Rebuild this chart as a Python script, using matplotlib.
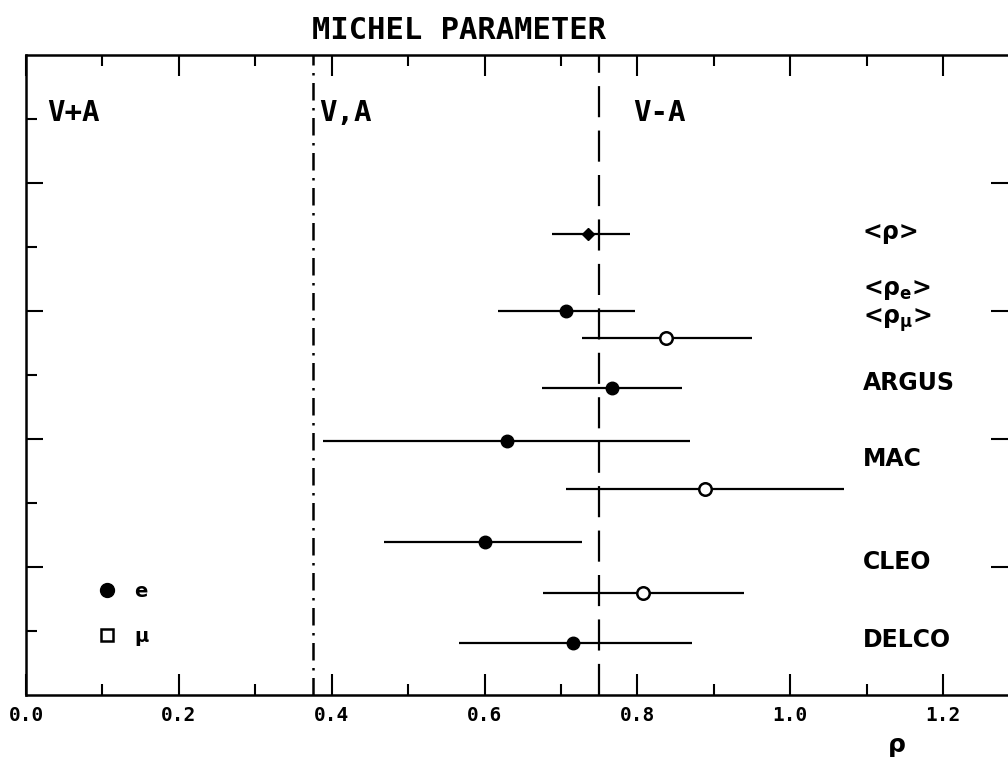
import matplotlib
matplotlib.use('Agg')
import matplotlib.pyplot as plt
from matplotlib.lines import Line2D
from matplotlib.ticker import FixedLocator

# data
labels_y = [7.23, 6.33, 5.86, 4.88, 3.69, 2.08, 0.86]
labels = ['<ρ>', '<ρ$_e$>', '<ρ$_μ$>', 'ARGUS', 'MAC', 'CLEO', 'DELCO']

rho_val = [0.735, 0.707, 0.837, 0.767, 0.629, 0.888, 0.600, 0.808, 0.716]
rho_lo = [0.688, 0.617, 0.727, 0.675, 0.388, 0.707, 0.468, 0.676, 0.567]
rho_hi = [0.790, 0.797, 0.950, 0.859, 0.869, 1.071, 0.728, 0.939, 0.871]
row_y = [7.2, 6.0, 5.58, 4.8, 3.97, 3.22, 2.39, 1.59, 0.81]
kind = ['avg', 'e', 'mu', 'e', 'e', 'mu', 'e', 'mu', 'e']

regions = ['V+A', 'V,A', 'V-A']
region_x = [0.028, 0.383, 0.795]
bounds = [0.375, 0.75]

xticks = [0.0, 0.2, 0.4, 0.6, 0.8, 1.0, 1.2]
xminor = [0.1, 0.3, 0.5, 0.7, 0.9, 1.1]
ymajor = [2, 4, 6, 8]
yminor = [1, 3, 5, 7, 9]

plt.rcParams['mathtext.default'] = 'regular'
mono = 'DejaVu Sans Mono'

fig = plt.figure(figsize=(10.08, 7.57), dpi=100)
ax = fig.add_axes([0.0258, 0.0819, 0.9742, 0.8454])
ax.set_xlim(0, 1.285)
ax.set_ylim(0, 10)

# boundaries
ax.axvline(bounds[0], color='black', lw=1.8, ls=(0, (7, 3, 1, 3)))
ax.axvline(bounds[1], color='black', lw=1.6, ls=(0, (14, 6)))

# error bars and points
for v, lo, hi, y, k in zip(rho_val, rho_lo, rho_hi, row_y, kind):
    ax.plot([lo, hi], [y, y], color='black', lw=1.6, solid_capstyle='butt')
    if k == 'avg':
        ax.plot(v, y, marker='D', ms=6, color='black')
    elif k == 'e':
        ax.plot(v, y, marker='o', ms=9, color='black')
    else:
        ax.plot(v, y, marker='o', ms=9, mfc='white', mec='black', mew=1.8)

for t, y in zip(labels, labels_y):
    ax.text(1.095, y, t, fontsize=17, fontweight='bold', va='center', ha='left')

for t, x in zip(regions, region_x):
    ax.text(x, 9.1, t, family=mono, fontweight='bold', fontsize=21, va='center', ha='left')

# ticks
ax.xaxis.set_major_locator(FixedLocator(xticks))
ax.xaxis.set_minor_locator(FixedLocator(xminor))
ax.yaxis.set_major_locator(FixedLocator(ymajor))
ax.yaxis.set_minor_locator(FixedLocator(yminor))
ax.tick_params(which='both', direction='in', top=True, bottom=True, left=True, right=True, width=1.5)
ax.tick_params(which='major', length=15)
ax.tick_params(which='minor', length=8)
ax.tick_params(axis='y', which='minor', right=False)
ax.tick_params(axis='y', which='major', right=True, length=12)
ax.tick_params(axis='y', labelleft=False)
ax.tick_params(axis='x', pad=8)
ax.set_xticklabels([f'{t:.1f}' for t in xticks], family=mono, fontweight='bold', fontsize=14)
for s in ['left', 'bottom', 'top']:
    ax.spines[s].set_linewidth(1.8)
ax.spines['right'].set_visible(False)

ax.text(1.14, -0.78, 'ρ', fontsize=18, fontweight='bold', ha='center', va='center')
fig.text(0.455, 0.96, 'MICHEL PARAMETER', family=mono, fontweight='bold', fontsize=22,
         ha='center', va='center')

handles = [Line2D([], [], ls='none', marker='o', ms=10, color='black'),
           Line2D([], [], ls='none', marker='s', ms=9, mfc='white', mec='black', mew=1.8)]
ax.legend(handles, ['e', 'μ'], loc='lower left', bbox_to_anchor=(0.045, 0.05), frameon=False,
          labelspacing=1.3, handletextpad=0.4, prop={'weight': 'bold', 'size': 14})

fig.savefig('out.png', dpi=100)
